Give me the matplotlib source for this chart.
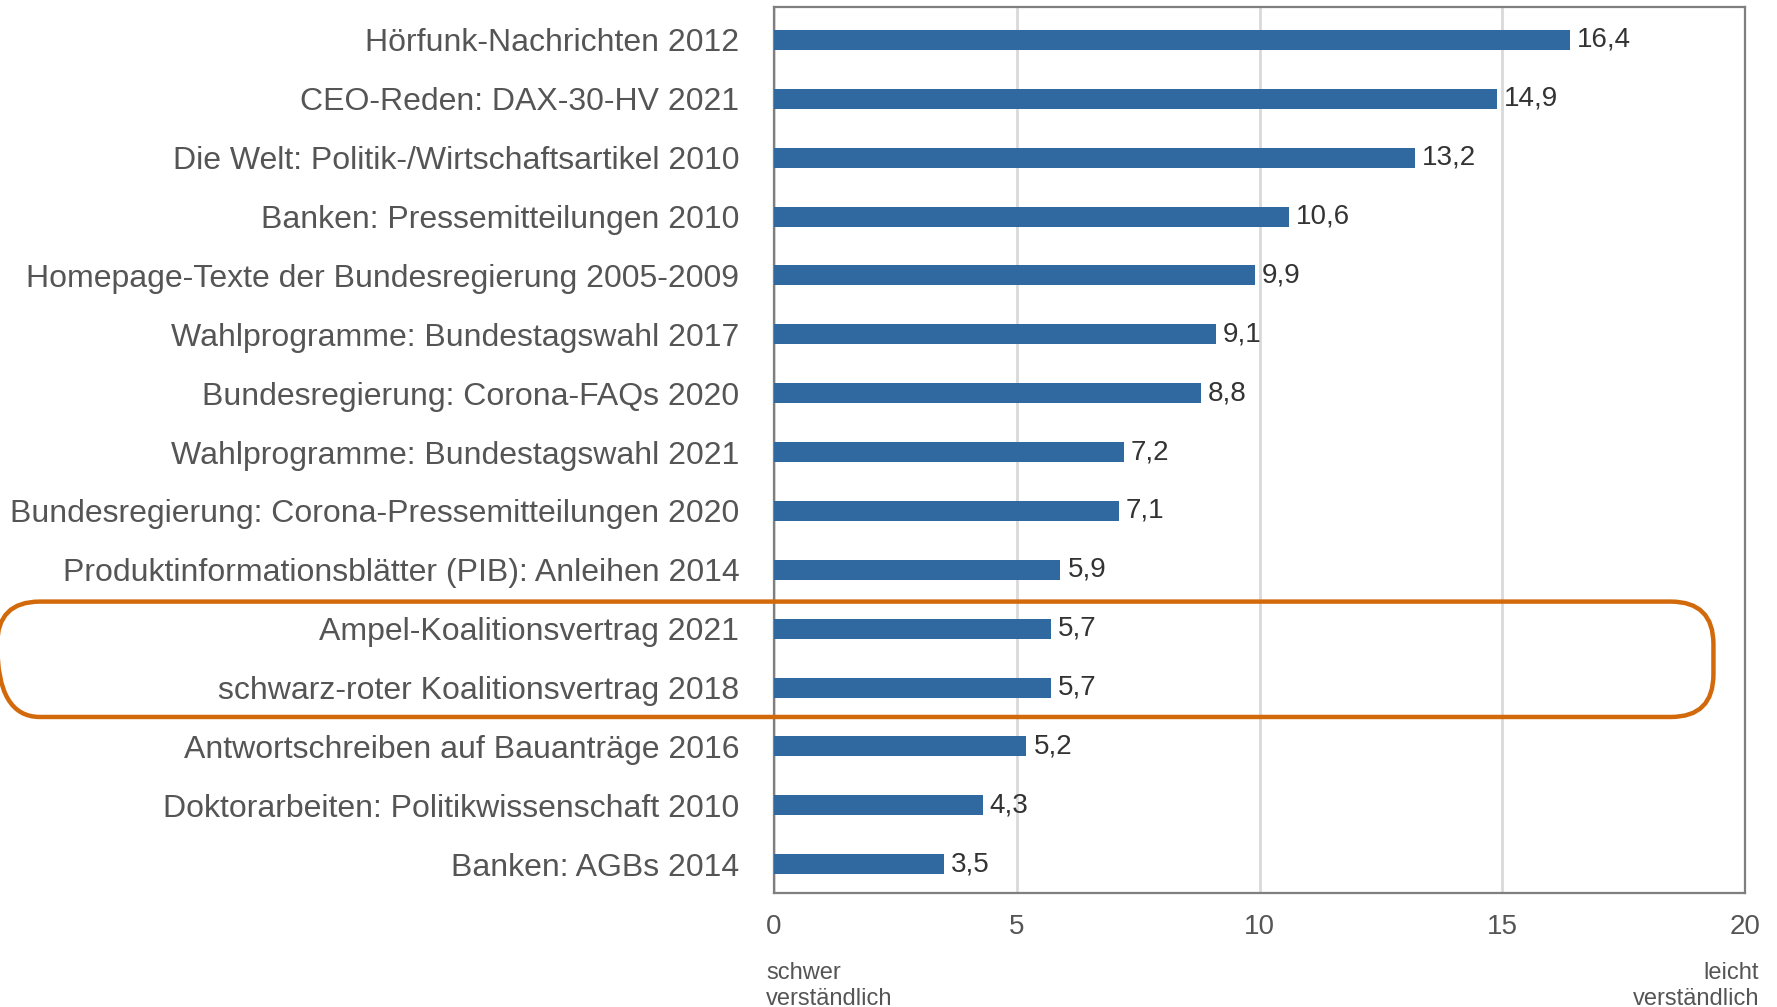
import matplotlib.pyplot as plt
from matplotlib.patches import FancyBboxPatch

# Verständlichkeit (Hohenheimer Index), von leicht nach schwer
categories = [
    "Hörfunk-Nachrichten 2012",
    "CEO-Reden: DAX-30-HV 2021",
    "Die Welt: Politik-/Wirtschaftsartikel 2010",
    "Banken: Pressemitteilungen 2010",
    "Homepage-Texte der Bundesregierung 2005-2009",
    "Wahlprogramme: Bundestagswahl 2017",
    "Bundesregierung: Corona-FAQs 2020",
    "Wahlprogramme: Bundestagswahl 2021",
    "Bundesregierung: Corona-Pressemitteilungen 2020",
    "Produktinformationsblätter (PIB): Anleihen 2014",
    "Ampel-Koalitionsvertrag 2021",
    "schwarz-roter Koalitionsvertrag 2018",
    "Antwortschreiben auf Bauanträge 2016",
    "Doktorarbeiten: Politikwissenschaft 2010",
    "Banken: AGBs 2014",
]
values = [16.4, 14.9, 13.2, 10.6, 9.9, 9.1, 8.8, 7.2, 7.1, 5.9, 5.7, 5.7, 5.2, 4.3, 3.5]
xticks = [0, 5, 10, 15, 20]
highlight = [10, 11]  # eingerahmte Zeilen

plt.rcParams['font.family'] = ['Liberation Sans', 'DejaVu Sans']

W, H = 1777, 1007
fig = plt.figure(figsize=(W / 100, H / 100), dpi=100)
ax = fig.add_axes([774 / W, 1 - 893 / H, (1745 - 774) / W, (893 - 7) / H])

pos = list(range(len(categories)))
bars = ax.barh(pos, values, height=0.34, color='#2F69A0', zorder=3)
ax.bar_label(bars, labels=[f"{v:.1f}".replace('.', ',') for v in values],
             padding=5, fontsize=20, color='#333333')

ax.set_xlim(0, 20)
ax.set_ylim(len(categories) - 0.51, -0.56)
ax.set_yticks(pos)
ax.set_yticklabels(categories, fontsize=23, color='#555555')
ax.set_xticks(xticks)
ax.set_xticklabels([str(t) for t in xticks], fontsize=20, color='#555555')
ax.tick_params(axis='y', length=0, pad=25)
ax.tick_params(axis='x', length=0, pad=15)
ax.grid(axis='x', color='#d9d9d9', linewidth=2, zorder=0)
for s in ax.spines.values():
    s.set_color('#7f7f7f')
    s.set_linewidth(1.6)

fig.text(766 / W, 1 - 986 / H, "schwer\nverständlich", fontsize=17, color='#555555',
         ha='left', va='center', linespacing=1.22)
fig.text(1759 / W, 1 - 986 / H, "leicht\nverständlich", fontsize=17, color='#555555',
         ha='right', va='center', linespacing=1.22)

# Rahmen um die Koalitionsverträge
to_fig = ax.transData + fig.transFigure.inverted()
x0, y0 = to_fig.transform((-16.0, highlight[-1] + 0.5))
x1, y1 = to_fig.transform((19.35, highlight[0] - 0.46))
box = FancyBboxPatch((x0, y0), x1 - x0, y1 - y0,
                     boxstyle="round,pad=0,rounding_size=0.024",
                     mutation_aspect=W / H, transform=fig.transFigure,
                     fill=False, edgecolor='#D2690A', linewidth=3.2,
                     clip_on=False, zorder=5)
fig.patches.append(box)

fig.savefig("out.png", dpi=100)
